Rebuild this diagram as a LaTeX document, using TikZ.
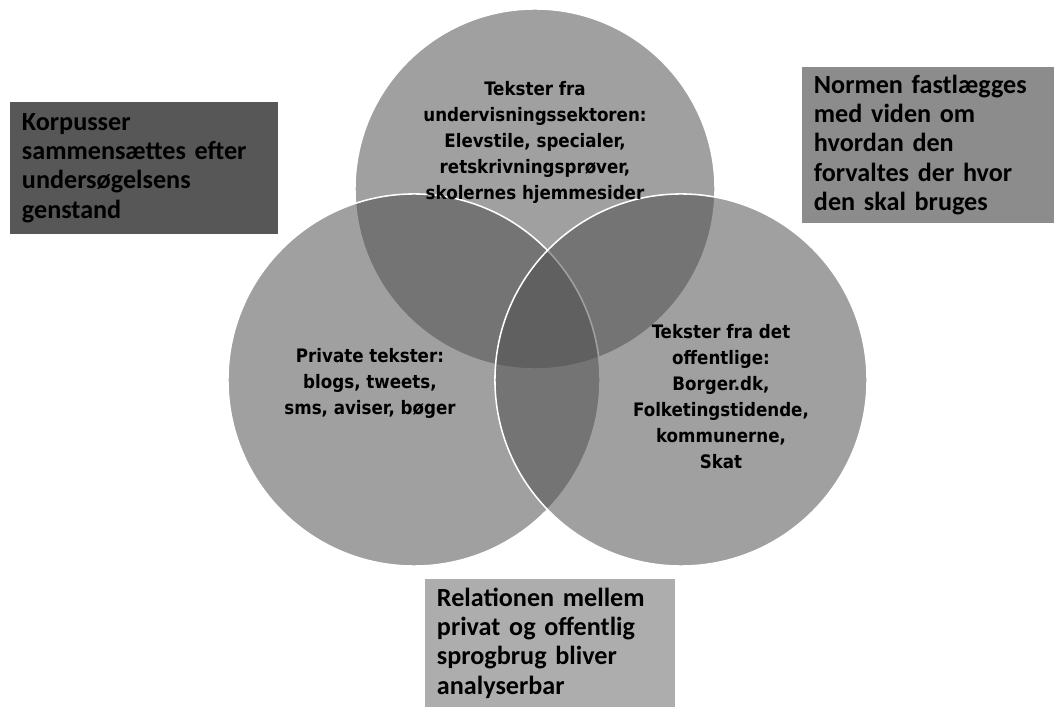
\documentclass[tikz,border=0pt]{standalone}
\usepackage{fontspec}
\newfontfamily\ringfont{DejaVu Sans Condensed}
\newfontfamily\notefont{Carlito}
\definecolor{notedark}{HTML}{575757}
\definecolor{notemid}{HTML}{8C8C8C}
\definecolor{notelight}{HTML}{ADADAD}
\definecolor{vennfill}{HTML}{505050}

\begin{document}
\begin{tikzpicture}[x=0.025cm, y=-0.025cm,
        venn/.style={circle, draw=white, line width=1.1pt, fill=vennfill, fill opacity=0.54, inner sep=0pt},
        ringtext/.style={align=center, inner sep=0pt, font=\ringfont\bfseries\fontsize{13.2}{18.5}\selectfont},
        note/.style={align=left, inner xsep=0.3cm, inner ysep=0pt, font=\notefont\bfseries\fontsize{18.6}{20.8}\selectfont}]

    \useasboundingbox[fill=white] (0,0) rectangle (1054,707);

    \node[venn, minimum size=9cm] (edu) at (535,189) {};
    \node[venn, minimum size=9.3cm] (priv) at (414,380) {};
    \node[venn, minimum size=9.3cm] (pub) at (681,380) {};

    \node[ringtext] (edutxt) at (535,142) {Tekster fra\\undervisningssektoren:\\Elevstile, specialer,\\retskrivningsprøver,\\skolernes hjemmesider};
    \node[ringtext] (privtxt) at (370,383) {Private tekster:\\blogs, tweets,\\sms, aviser, bøger};
    \node[ringtext] (pubtxt) at (721,397) {Tekster fra det\\offentlige:\\Borger.dk,\\Folketingstidende,\\kommunerne,\\Skat};

    \node[note, fill=notedark, text width=6.1cm, minimum height=3.3cm] (korpus) at (144,168)
        {Korpusser\\sammensættes efter\\undersøgelsens\\genstand};
    \node[note, fill=notemid, text width=5.7cm, minimum height=3.9cm] (norm) at (928,145)
        {Normen fastlægges\\med viden om\\hvordan den\\forvaltes der hvor\\den skal bruges};
    \node[note, fill=notelight, text width=5.65cm, minimum height=3.175cm] (relation) at (550,643)
        {Relationen mellem\\privat og offentlig\\sprogbrug bliver\\analyserbar};

\end{tikzpicture}
\end{document}
